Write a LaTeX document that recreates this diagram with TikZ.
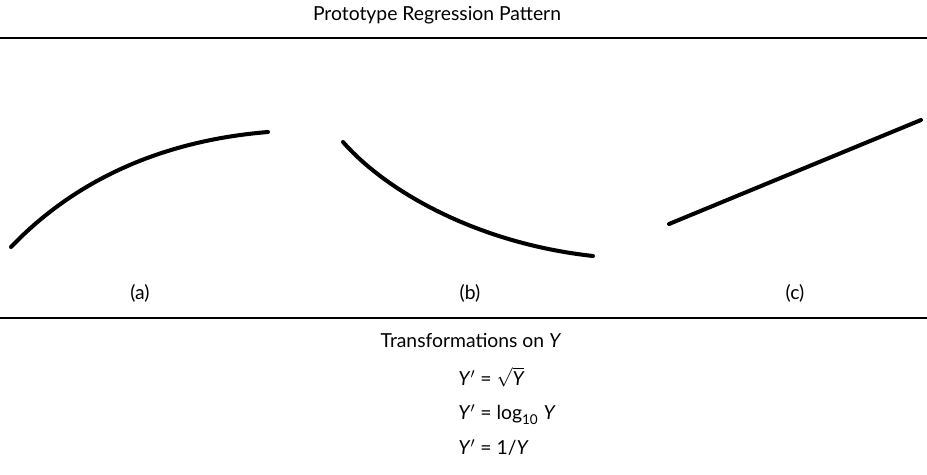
\documentclass[tikz,border=0pt]{standalone}
\usepackage{fontspec}
\setmainfont{Lato}
\usetikzlibrary{positioning}
\tikzset{
  caption/.style={font=\fontsize{11}{13}\selectfont, inner sep=0pt},
  formula/.style={font=\fontsize{11}{13}\selectfont, inner sep=0pt, anchor=base west},
  rule/.style={line width=0.8pt},
  pattern/.style={line width=2.3pt, line cap=round},
}
\newcommand{\idx}[1]{\textsubscript{\raisebox{-0.35ex}{#1}}}

\begin{document}
\begin{tikzpicture}[x=0.02cm, y=-0.02cm]

  \useasboundingbox (0,0) rectangle (927,474);

  % =====================================================
  % HEADER
  % =====================================================

  \node[caption] (title) at (437,15) {Prototype Regression Pattern};

  \coordinate (topL) at (0,38);
  \coordinate (topR) at (927,38);
  \draw[rule] (topL) -- (topR);

  % =====================================================
  % PATTERNS
  % =====================================================

  \coordinate (a0) at (11,247);
  \coordinate (a1) at (268,132);
  \draw[pattern]
    (a0) .. controls (80,175) and (170,140) .. (a1);

  \coordinate (b0) at (343,142);
  \coordinate (b1) at (593,256);
  \draw[pattern]
    (b0) .. controls (385,190) and (475,243) .. (b1);

  \coordinate (c0) at (669,224);
  \coordinate (c1) at (921,120);
  \draw[pattern]
    (c0) -- (c1);

  \node[caption] (la) at (140,293) {(a)};
  \node[caption] (lb) at (470,293) {(b)};
  \node[caption] (lc) at (795,293) {(c)};

  \coordinate (botL) at (0,318);
  \coordinate (botR) at (927,318);
  \draw[rule] (botL) -- (botR);

  % =====================================================
  % TRANSFORMATIONS
  % =====================================================

  \node[caption] (trans) at (471,340) {Transformations on \textit{Y}};

  \node[formula] (f1) at (458,385)
    {\textit{Y}$'$ = $\sqrt{\textit{Y}}$};

  \node[formula] (f2) at (458,419)
    {\textit{Y}$'$ = log\idx{10} \textit{Y}};

  \node[formula] (f3) at (458,454)
    {\textit{Y}$'$ = 1/\textit{Y}};

\end{tikzpicture}
\end{document}
